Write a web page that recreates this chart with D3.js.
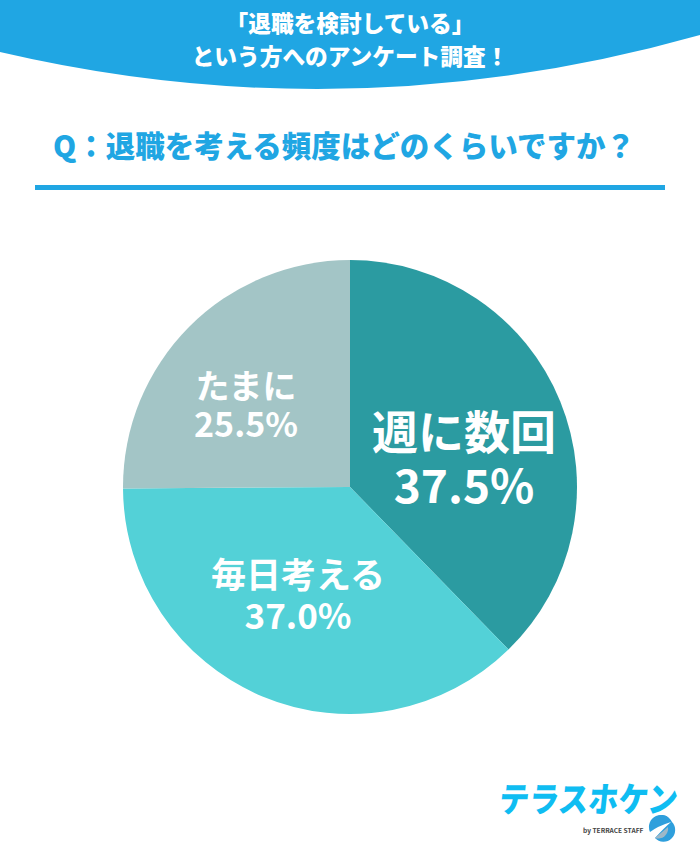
<!DOCTYPE html>
<html><head><meta charset="utf-8">
<script src="https://cdn.jsdelivr.net/npm/d3@7/dist/d3.min.js"></script>
<style>html,body{margin:0;padding:0;background:#fff}svg{display:block}text{font-family:"Noto Sans CJK JP","Noto Sans",sans-serif}</style>
</head><body><svg id="c" width="700" height="850"></svg>
<script>
const categories=["週に数回","毎日考える","たまに"];
const labels=["37.5%","37.0%","25.5%"];
// wedge sizes as drawn in the picture (they differ slightly from the printed labels)
const drawnShares=[37.7,37.2,25.1];
const sliceColors=["#2b9ba1","#53d1d7","#a3c5c6"];
const headerLines=["「退職を検討している」","という方へのアンケート調査！"];
const question="Q：退職を考える頻度はどのくらいですか？";
const svg=d3.select("#c");
svg.append("path").attr("d","M0,0H700V35Q350,133.7 0,52Z").attr("fill","#20a6e3");
svg.selectAll("text.h").data(headerLines).join("text").attr("x",350).attr("y",(d,i)=>[32,65][i]).attr("text-anchor","middle").attr("fill","#fff").attr("font-size",22.7).attr("font-weight",900).text(d=>d);
svg.append("text").attr("x",342).attr("y",157).attr("text-anchor","middle").attr("dx",2).attr("fill","#20a6e3").attr("font-size",29.5).attr("font-weight",900).text(question);
svg.append("rect").attr("x",35).attr("y",185).attr("width",630).attr("height",5).attr("fill","#20a6e3");
const g=svg.append("g").attr("transform","translate(350,487)");
const pie=d3.pie().sort(null)(drawnShares);
const arc=d3.arc().innerRadius(0).outerRadius(227);
g.selectAll("path").data(pie).join("path").attr("d",arc).attr("fill",(d,i)=>sliceColors[i]);
const labelPos=[[114,-55,46,-1,46],[-52,88,35,129,35],[-104,-100,34,-62,34]];
svg.append("g").attr("transform","translate(350,487)").selectAll("g").data(categories).join("g").each(function(d,i){
 const p=labelPos[i],s=d3.select(this);
 s.append("text").attr("x",p[0]).attr("y",p[1]+p[2]*.36).attr("text-anchor","middle").attr("fill","#fff").attr("font-weight",700).attr("font-size",p[2]).text(d);
 s.append("text").attr("x",p[0]).attr("y",p[3]+p[4]*.36).attr("text-anchor","middle").attr("fill","#fff").attr("font-weight",700).attr("font-size",p[4]).text(labels[i]);
});
const logo=svg.append("g");
logo.append("text").attr("transform","translate(498,812) skewX(-6) scale(1,1.15)").attr("fill","#0fbdf2").attr("font-size",30).attr("font-weight",900).text("テラスホケン");
logo.append("text").attr("x",583).attr("y",833).attr("fill","#444").attr("font-size",6.6).attr("font-weight",700).text("by TERRACE STAFF");
logo.append("path").attr("d","M652,826A10,10 0 0 1 669,818A12,12 0 0 0 652,826Z").attr("fill","#1f8fd0");
logo.append("path").attr("d","M650,832A12,12 0 0 1 672,822A10,10 0 0 1 655,838Q664,828 671,822Q658,826 650,832Z").attr("fill","#2f9fdc");
logo.append("path").attr("d","M655,838Q662,832 668,827A10,10 0 0 1 655,838Z").attr("fill","#9db8c8");
</script></body></html>
